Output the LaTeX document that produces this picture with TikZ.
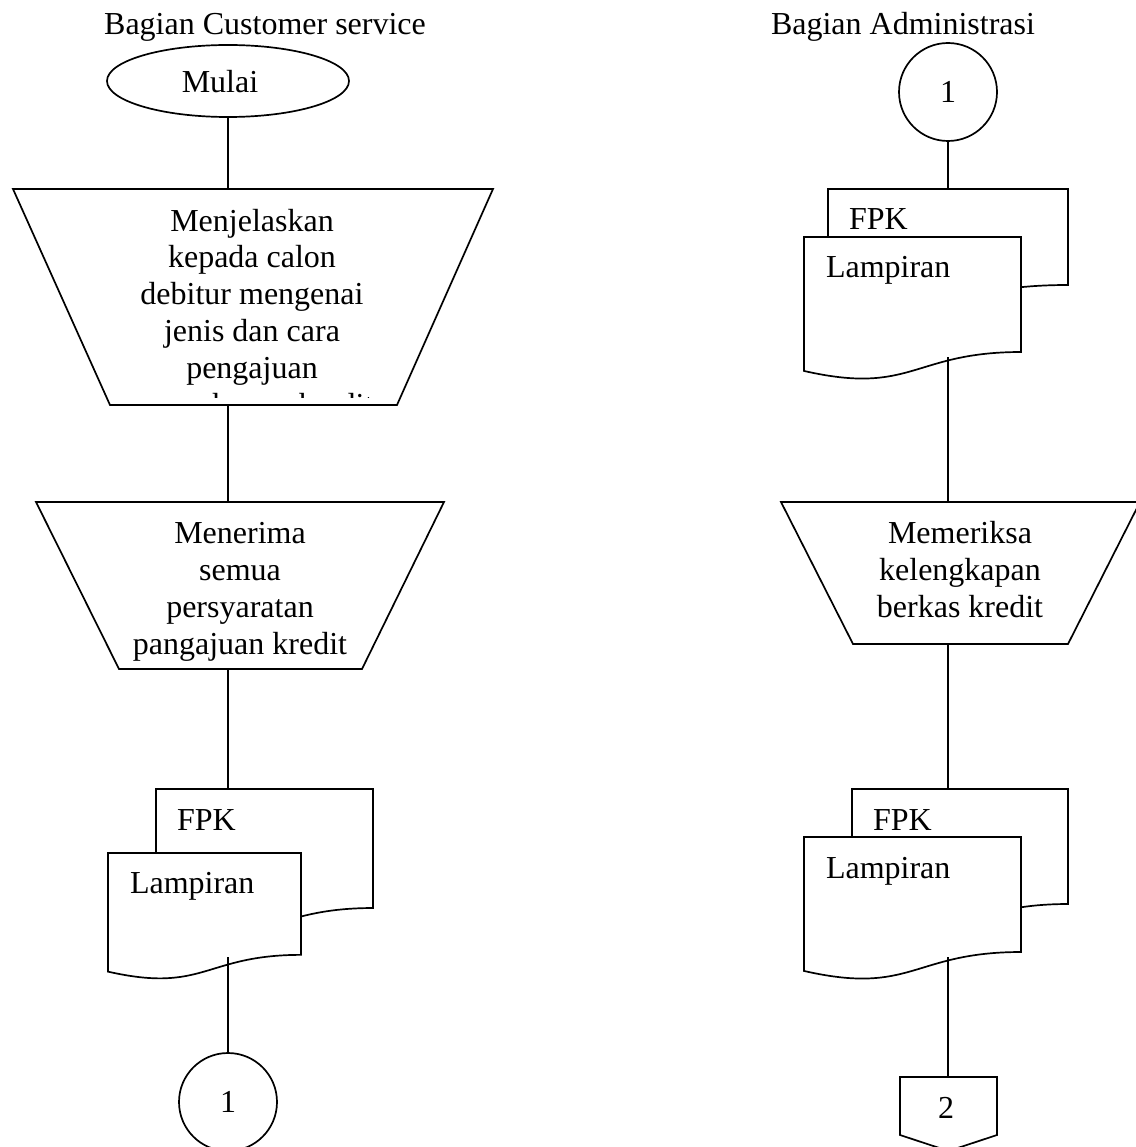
\documentclass[tikz,border=0pt]{standalone}
\usepackage{fontspec}
\setmainfont{Liberation Serif}
\usetikzlibrary{shapes.geometric}
\tikzset{
  every node/.style={font=\fontsize{32}{36.8}\selectfont, inner sep=0pt, outer sep=0pt},
  flow/.style={draw=black, line width=1.7pt, fill=white},
  conn/.style={draw=black, line width=1.7pt},
  txt/.style={anchor=base, align=center},
  doctxt/.style={anchor=base west},
}
% document symbol: left x, right x, top y, height
\newcommand\docsheet[4]{%
  \path[flow] (#1,#3) -- (#2,#3) -- (#2,{#3+0.802*#4})
    .. controls ({(#1+#2)/2},{#3+0.802*#4}) and ({(#1+#2)/2},{#3+1.107*#4})
    .. (#1,{#3+0.934*#4}) -- cycle;}
\begin{document}
\begin{tikzpicture}[x=1pt,y=-1pt]
\useasboundingbox (0,0) rectangle (1135,1147);

% column headings
\node[anchor=base] (headcs) at (265,35) {Bagian Customer service};
\node[anchor=base west] (headadm) at (771,35) {Bagian Administrasi};

% ---------------- Bagian Customer service ----------------
\node[flow, ellipse, minimum width=242pt, minimum height=72pt] (mulai) at (228,81) {};
\node[anchor=base] (mulaitxt) at (220,93) {Mulai};

% manual operation: explanation to the applicant
\path[flow] (13,189) -- (493,189) -- (397,405) -- (110,405) -- cycle;
\coordinate (t1in) at (228,189);
\coordinate (t1out) at (228,405);
\begin{scope}
  \clip (0,150) rectangle (1135,397);
  % the node's base is the baseline of its last line
  \node[txt] (t1txt) at (252,415) {Menjelaskan\\kepada calon\\debitur mengenai\\jenis dan cara\\pengajuan\\permohonan kredit};
\end{scope}

% manual operation: receiving the requirements
\path[flow] (36,502) -- (444,502) -- (362,669) -- (119,669) -- cycle;
\coordinate (t2in) at (228,502);
\coordinate (t2out) at (228,669);
\node[txt] (t2txt) at (240,654) {Menerima\\semua\\persyaratan\\pangajuan kredit};

% documents FPK + Lampiran
\docsheet{156}{373}{789}{148.4}
\docsheet{108}{301}{853}{127}
\node[doctxt] (fpka) at (177,830) {FPK};
\node[doctxt] (lampa) at (130,893) {Lampiran};
\coordinate (d1in) at (228,789);
\coordinate (d1out) at (228,957);

% on-page connector
\node[flow, circle, minimum size=98pt] (cona) at (228,1102) {1};

% ---------------- Bagian Administrasi ----------------
\node[flow, circle, minimum size=98pt] (conb) at (948,92) {1};

\docsheet{828}{1068}{189}{119.7}
\docsheet{804}{1021}{237}{143.4}
\node[doctxt] (fpkb) at (849,230) {FPK};
\node[doctxt] (lampb) at (826,278) {Lampiran};
\coordinate (d2in) at (948,189);
\coordinate (d2out) at (948,357);

% manual operation: checking the file
\path[flow] (781,502) -- (1140,502) -- (1068,644) -- (853,644) -- cycle;
\coordinate (t3in) at (948,502);
\coordinate (t3out) at (948,644);
\node[txt] (t3txt) at (960,617) {Memeriksa\\kelengkapan\\berkas kredit};

\docsheet{852}{1068}{789}{143.4}
\docsheet{804}{1021}{837}{143.4}
\node[doctxt] (fpkc) at (873,830) {FPK};
\node[doctxt] (lampc) at (826,878) {Lampiran};
\coordinate (d3in) at (948,789);
\coordinate (d3out) at (948,957);

% off-page connector
\path[flow] (900,1077) -- (997,1077) -- (997,1135) -- (948.5,1151) -- (900,1135) -- cycle;
\coordinate (offin) at (948,1077);
\node[anchor=base] (offtxt) at (946,1118) {2};

% flow lines
\draw[conn] (mulai.south) -- (t1in);
\draw[conn] (t1out) -- (t2in);
\draw[conn] (t2out) -- (d1in);
\draw[conn] (d1out) -- (cona.north);
\draw[conn] (conb.south) -- (d2in);
\draw[conn] (d2out) -- (t3in);
\draw[conn] (t3out) -- (d3in);
\draw[conn] (d3out) -- (offin);
\end{tikzpicture}
\end{document}
